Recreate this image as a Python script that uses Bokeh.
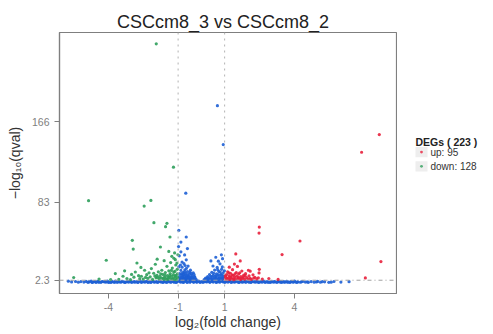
from bokeh.plotting import figure
from bokeh.layouts import row
from bokeh.models import Span, FixedTicker, Range1d, PrintfTickFormatter
from bokeh.core.properties import value
from bokeh.embed import file_html
from bokeh.resources import INLINE

TITLE = "CSCcm8_3  vs  CSCcm8_2"
x_ticks = [-4, -1, 1, 4]
y_ticks = [2.3, 83, 166]
fc_cut = [-1, 1]
q_cut = 2.3
n_up, n_down = 95, 128

# non-significant genes below the q-value cut (x = log2 FC, y = -log10 q)
band_pts = [
    (-5.72, 1.3), (-5.58, 0.5), (-5.41, 1.0), (-5.29, 0.2), (-5.18, 0.9), (-5.05, 0.4), (-4.96, 1.1), (-4.88, 0.1), (-4.81, 0.7), (-4.74, 1.4),
    (-4.67, 0.3), (-4.6, 0.9), (-4.53, 0.0), (-4.46, 1.2), (-4.39, 0.5), (-4.32, 0.1), (-4.25, 1.0), (-4.18, 0.6), (-4.11, 0.2), (-4.04, 1.3),
    (-3.97, 0.4), (-3.9, 0.0), (-3.83, 0.9), (-3.76, 0.3), (-3.69, 1.5), (-3.62, 0.1), (-3.55, 0.7), (-3.48, 0.2), (-3.41, 1.1), (-3.34, 0.5),
    (-3.27, 0.0), (-3.2, 0.9), (-3.13, 0.3), (-3.06, 1.4), (-2.99, 0.1), (-2.92, 0.6), (-2.85, 0.2), (-2.78, 1.0), (-2.71, 0.4), (-2.64, 1.6),
    (-2.57, 0.1), (-2.5, 0.8), (-2.43, 0.3), (-2.36, 1.2), (-2.29, 0.0), (-2.22, 0.7), (-2.15, 0.4), (-2.08, 1.5), (-2.01, 0.2), (-1.94, 0.9),
    (-1.87, 0.1), (-1.8, 1.3), (-1.73, 0.5), (-1.66, 0.0), (-1.59, 1.0), (-1.52, 0.3), (-1.45, 1.7), (-1.38, 0.6), (-1.31, 0.1), (-1.24, 1.2),
    (-1.17, 0.4), (-1.1, 0.0), (-1.03, 0.9), (-0.96, 1.8), (-0.89, 0.2), (-0.82, 1.1), (-0.75, 0.5), (-0.68, 1.9), (-0.61, 0.0), (-0.54, 1.3),
    (-0.47, 0.6), (-0.4, 1.7), (-0.33, 0.1), (-0.26, 1.0), (-0.19, 0.3), (-0.12, 1.4), (-0.05, 0.0), (0.02, 0.8), (0.09, 0.2), (0.16, 1.1),
    (0.23, 0.5), (0.3, 1.6), (0.37, 0.1), (0.44, 1.2), (0.51, 0.4), (0.58, 1.9), (0.65, 0.0), (0.72, 1.0), (0.79, 0.3), (0.86, 1.7),
    (0.93, 0.6), (1.0, 0.1), (1.07, 1.3), (1.14, 0.4), (1.21, 1.8), (1.28, 0.0), (1.35, 0.9), (1.42, 0.2), (1.49, 1.5), (1.56, 0.5),
    (1.63, 0.0), (1.7, 1.1), (1.77, 0.3), (1.84, 0.8), (1.91, 0.1), (1.98, 1.4), (2.05, 0.4), (2.12, 0.0), (2.19, 1.0), (2.26, 0.6),
    (2.33, 0.2), (2.4, 1.2), (2.47, 0.0), (2.54, 0.7), (2.61, 0.3), (2.68, 1.3), (2.75, 0.1), (2.82, 0.8), (2.89, 0.4), (2.96, 0.0),
    (3.03, 1.0), (3.1, 0.3), (3.17, 0.6), (3.24, 0.1), (3.31, 1.2), (3.38, 0.4), (3.45, 0.0), (3.52, 0.8), (3.59, 0.2), (3.66, 1.1),
    (3.73, 0.5), (3.8, 0.0), (3.87, 0.9), (3.94, 0.3), (4.01, 1.3), (4.08, 0.1), (4.15, 0.6), (4.25, 0.2), (4.36, 1.0), (4.47, 0.4),
    (4.6, 0.1), (4.72, 0.9), (4.85, 0.3), (5.0, 1.1), (5.12, 0.2), (5.3, 0.6), (5.48, 0.1), (5.7, 1.0), (6.0, 0.4), (6.35, 0.8),
    (-4.84, 0.5), (-4.7, 0.0), (-4.56, 1.0), (-4.42, 0.3), (-4.28, 0.7), (-4.14, 1.1), (-4.0, 0.1), (-3.86, 0.6), (-3.72, 0.2), (-3.58, 1.0),
    (-3.44, 0.6), (-3.3, 0.2), (-3.16, 1.1), (-3.02, 0.5), (-2.88, 0.9), (-2.74, 0.0), (-2.6, 0.5), (-2.46, 1.0), (-2.32, 0.6), (-2.18, 0.1),
    (-2.04, 0.6), (-1.9, 0.3), (-1.76, 0.8), (-1.62, 0.5), (-1.48, 0.1), (-1.34, 1.0), (-1.2, 0.7), (-1.06, 0.4), (-0.92, 1.0), (-0.78, 0.0),
    (-0.64, 0.8), (-0.5, 0.2), (-0.36, 0.9), (-0.22, 0.6), (-0.08, 0.8), (0.06, 0.4), (0.2, 0.9), (0.34, 0.6), (0.48, 1.0), (0.62, 0.5),
    (0.76, 0.8), (0.9, 1.2), (1.04, 0.5), (1.18, 0.9), (1.32, 0.6), (1.46, 0.8), (1.6, 0.4), (1.74, 0.6), (1.88, 1.0), (2.02, 0.7),
    (2.16, 0.5), (2.3, 0.9), (2.44, 0.4), (2.58, 1.0), (2.72, 0.5), (2.86, 0.2), (3.0, 0.6), (3.14, 1.0), (3.28, 0.5), (3.42, 0.8),
    (3.56, 0.5), (3.7, 0.2), (3.84, 0.6), (3.98, 0.7), (4.12, 0.3), (4.3, 0.6), (4.55, 0.5), (4.95, 0.5), (5.2, 0.8), (5.58, 0.3),
]

# non-significant fold change (|log2 FC| < 1) above the q-value cut
ns_pts = [
    (-0.98, 3.5), (-0.95, 6.0), (-0.93, 9.2), (-0.9, 4.1), (-0.88, 12.5), (-0.86, 7.3), (-0.85, 3.0), (-0.83, 15.8), (-0.81, 5.2), (-0.8, 10.1),
    (-0.78, 3.8), (-0.77, 8.4), (-0.75, 19.5), (-0.74, 6.1), (-0.72, 4.0), (-0.71, 13.0), (-0.69, 2.9), (-0.68, 9.6), (-0.66, 5.5), (-0.65, 23.4),
    (-0.63, 7.2), (-0.62, 3.4), (-0.6, 11.2), (-0.58, 4.6), (-0.57, 16.9), (-0.55, 6.5), (-0.53, 3.1), (-0.51, 8.8), (-0.49, 4.3), (-0.47, 12.7),
    (-0.45, 5.9), (-0.43, 3.6), (-0.41, 7.5), (-0.38, 4.8), (-0.35, 10.0), (-0.33, 3.2), (-0.3, 6.3), (-0.27, 4.0), (-0.22, 3.0), (-0.95, 27.5),
    (-0.88, 31.6), (-0.72, 28.4), (-0.6, 35.0), (-0.83, 21.0), (-0.97, 16.0), (-0.65, 46.9), (-0.97, 53.8), (-0.67, 92.2), (-0.88, 41.7), (-0.98, 37.0),
    (-0.92, 2.8), (-0.87, 5.0), (-0.84, 8.9), (-0.79, 6.8), (-0.76, 2.6), (-0.73, 11.0), (-0.7, 7.9), (-0.67, 3.9), (-0.64, 14.6), (-0.61, 5.0),
    (-0.59, 8.0), (-0.56, 2.7), (-0.52, 5.4), (-0.5, 10.6), (-0.46, 3.0), (-0.44, 9.3), (-0.4, 5.6), (-0.36, 2.8), (-0.32, 8.4), (-0.28, 5.2),
    (-0.9, 18.0), (-0.7, 17.5),
    (0.12, 3.0), (0.18, 4.5), (0.22, 3.4), (0.27, 6.0), (0.31, 3.8), (0.35, 8.2), (0.38, 4.9), (0.42, 3.2), (0.45, 10.5), (0.48, 5.7),
    (0.51, 7.4), (0.54, 3.6), (0.57, 12.8), (0.6, 6.3), (0.62, 4.2), (0.65, 9.0), (0.68, 15.5), (0.7, 5.1), (0.73, 3.3), (0.75, 11.4),
    (0.78, 7.0), (0.8, 19.2), (0.82, 4.4), (0.85, 8.6), (0.87, 13.6), (0.89, 5.8), (0.91, 24.5), (0.93, 3.9), (0.95, 10.2), (0.97, 6.7),
    (0.5, 17.0), (0.73, 22.0), (0.86, 28.5), (0.62, 26.0), (0.41, 22.2), (0.69, 182.5), (0.94, 142.3),
    (0.15, 2.7), (0.25, 4.8), (0.33, 2.9), (0.4, 6.6), (0.47, 3.5), (0.53, 9.4), (0.58, 4.5), (0.64, 6.9), (0.67, 2.8), (0.72, 8.0),
    (0.77, 4.6), (0.81, 10.8), (0.84, 3.1), (0.88, 7.6), (0.9, 16.0), (0.96, 4.3), (0.99, 12.0), (0.7, 13.2),
]

# up-regulated DEGs
up_pts = [
    (1.02, 3.2), (1.05, 5.5), (1.08, 8.1), (1.1, 3.9), (1.13, 11.0), (1.16, 4.6), (1.19, 6.9), (1.22, 3.1), (1.25, 9.5), (1.28, 5.2),
    (1.31, 3.6), (1.34, 13.2), (1.37, 7.4), (1.4, 4.1), (1.43, 5.9), (1.46, 3.3), (1.5, 10.3), (1.53, 6.4), (1.56, 3.8), (1.6, 8.6),
    (1.63, 4.7), (1.67, 3.0), (1.7, 6.1), (1.74, 11.8), (1.78, 4.3), (1.82, 7.5), (1.86, 3.4), (1.9, 9.1), (1.95, 5.0), (2.0, 3.7),
    (2.05, 6.8), (2.1, 4.2), (2.15, 3.2), (2.22, 7.9), (2.3, 5.3), (2.38, 3.6), (2.45, 4.8), (1.2, 15.8), (1.55, 16.5), (2.02, 12.6),
    (2.48, 9.8), (1.48, 29.4), (1.67, 22.2), (2.49, 13.6), (2.49, 57.2), (2.48, 51.0), (3.47, 28.8), (4.24, 42.8), (7.72, 21.6), (7.05, 4.7),
    (7.65, 152.6), (6.89, 134.4), (2.62, 3.5), (2.9, 4.0), (3.3, 3.1), (1.42, 19.0), (2.1, 11.6),
    (1.03, 6.9), (1.11, 2.8), (1.18, 9.8), (1.24, 5.9), (1.32, 7.8), (1.38, 2.9), (1.45, 8.8), (1.58, 5.1), (1.65, 9.9), (1.72, 3.6),
    (1.8, 5.6), (1.88, 7.0), (2.08, 3.0), (2.25, 4.4),
]

# down-regulated DEGs
down_pts = [
    (-5.49, 5.1), (-4.85, 84.4), (-4.09, 22.9), (-3.7, 9.2), (-3.37, 6.4), (-3.55, 3.2), (-3.2, 4.0), (-3.05, 3.0), (-2.97, 43.5), (-2.93, 34.5),
    (-2.77, 20.1), (-2.84, 10.8), (-2.58, 6.4), (-2.44, 12.6), (-2.5, 3.5), (-2.35, 8.0), (-2.3, 4.2), (-2.2, 5.8), (-2.15, 14.3), (-2.1, 3.1),
    (-2.05, 9.5), (-1.98, 18.8), (-1.95, 4.8), (-1.91, 7.4), (-1.85, 11.0), (-1.82, 3.6), (-1.78, 6.2), (-1.76, 36.6), (-1.72, 4.4), (-1.7, 12.6),
    (-1.66, 8.3), (-1.62, 3.2), (-1.58, 5.6), (-1.55, 10.2), (-1.52, 4.0), (-1.48, 16.7), (-1.46, 7.0), (-1.43, 3.4), (-1.4, 12.0), (-1.37, 5.2),
    (-1.34, 9.2), (-1.32, 20.5), (-1.3, 3.8), (-1.28, 6.6), (-1.25, 14.8), (-1.22, 4.5), (-1.2, 8.0), (-1.18, 25.0), (-1.16, 3.1), (-1.14, 11.4),
    (-1.12, 5.9), (-1.1, 18.0), (-1.08, 7.7), (-1.06, 3.5), (-1.04, 13.6), (-1.02, 4.9), (-1.01, 28.6), (-1.15, 30.5), (-1.27, 27.0),
    (-1.35, 46.9), (-1.54, 57.6), (-1.48, 61.0), (-2.04, 61.7), (-2.46, 78.8), (-2.17, 84.7), (-1.2, 119.0), (-1.94, 246.3),
    (-2.65, 3.9), (-2.9, 5.5), (-3.9, 3.0), (-4.4, 3.5), (-1.9, 24.0), (-1.6, 22.5), (-2.6, 15.5),
    (-1.03, 8.8), (-1.07, 2.9), (-1.13, 6.5), (-1.19, 10.8), (-1.24, 3.3), (-1.29, 12.4), (-1.36, 7.3), (-1.42, 4.9), (-1.5, 3.0), (-1.57, 7.6),
    (-1.64, 4.6), (-1.75, 9.0), (-1.88, 5.3), (-2.0, 6.7), (-2.25, 9.9), (-2.4, 5.2), (-2.7, 7.0), (-3.0, 8.3), (-3.3, 12.0), (-1.05, 20.0),
    (-1.12, 23.5), (-1.4, 32.0),
]

BLUE = "#1d5fd5"
GREEN = "#2e9f5b"
RED = "#e8203c"
AXIS_GREY = "#7f7f7f"
FONT = "Liberation Sans"


def xs(pts):
    return [p[0] for p in pts]


def ys(pts):
    return [p[1] for p in pts]


p = figure(width=397, height=334, output_backend="svg", toolbar_location=None,
           x_range=Range1d(-6.1, 8.39), y_range=Range1d(-11.4, 258),
           min_border_left=59, min_border_right=1, min_border_top=32, min_border_bottom=41,
           title=TITLE)

p.title.align = "center"
p.title.text_font = FONT
p.title.text_font_size = "18px"
p.title.text_font_style = "normal"
p.title.text_color = "#222222"
p.title.standoff = 2

p.grid.visible = False
p.outline_line_color = AXIS_GREY
p.outline_line_width = 1.2
p.background_fill_color = "white"
p.border_fill_color = "white"

for ax in (p.xaxis[0], p.yaxis[0]):
    ax.axis_line_color = AXIS_GREY
    ax.axis_line_width = 1.2
    ax.major_tick_line_color = AXIS_GREY
    ax.major_tick_out = 5
    ax.major_tick_in = 0
    ax.minor_tick_line_color = None
    ax.major_label_text_font = FONT
    ax.major_label_text_font_size = "10.5px"
    ax.major_label_text_color = "#808080"
    ax.axis_label_text_font = FONT
    ax.axis_label_text_font_size = "14px"
    ax.axis_label_text_font_style = "normal"
    ax.axis_label_text_color = "#333333"
    ax.formatter = PrintfTickFormatter(format="%g")

p.xaxis.major_label_standoff = 4
p.xaxis.axis_label_standoff = 0
p.yaxis.major_label_standoff = 5
p.yaxis.axis_label_standoff = 6

p.xaxis.ticker = FixedTicker(ticks=x_ticks)
p.yaxis.ticker = FixedTicker(ticks=y_ticks)
p.xaxis.axis_label = "log\u2082(fold change)"
p.yaxis.axis_label = "\u2212log\u2081\u2080(qval)"

for loc in fc_cut:
    p.add_layout(Span(location=loc, dimension="height", line_color="#b3b3b3",
                      line_dash="2 4", line_width=1))
p.add_layout(Span(location=q_cut, dimension="width", line_color="#a0a0a0",
                  line_dash="4 3 1 3", line_width=1))

p.scatter(xs(band_pts), ys(band_pts), size=3.2, color=BLUE, line_color=None, alpha=0.9)
p.scatter(xs(ns_pts), ys(ns_pts), size=3.2, color=BLUE, line_color=None, alpha=0.9)
p.scatter(xs(down_pts), ys(down_pts), size=3.2, color=GREEN, line_color=None, alpha=0.9)
p.scatter(xs(up_pts), ys(up_pts), size=3.2, color=RED, line_color=None, alpha=0.9)

# ---- legend panel (separate small figure, pixel coordinates, y downward) ----
lg = figure(width=96, height=334, output_backend="svg", toolbar_location=None,
            x_range=Range1d(0, 96), y_range=Range1d(334, 0),
            min_border=0, x_axis_location=None, y_axis_location=None)
lg.grid.visible = False
lg.outline_line_color = None
lg.background_fill_color = "white"
lg.border_fill_color = "white"

key_labels = [f"up: {n_up}", f"down: {n_down}"]
key_colors = [RED, GREEN]
key_y = [153.0, 171.3]

lg.text(x=[18], y=[140], text=[f"DEGs ( {n_up + n_down} )"], text_font=value(FONT),
        text_font_size="10.5px", text_font_style="bold", text_color="#222222",
        text_baseline="middle", text_align="left")
lg.rect(x=[24] * len(key_y), y=key_y, width=12, height=13,
        fill_color="#eeeeee", line_color=None)
lg.scatter(x=[24] * len(key_y), y=key_y, size=2.8, color=key_colors,
           line_color=None, alpha=0.8)
lg.text(x=[33] * len(key_y), y=key_y, text=key_labels, text_font=value(FONT),
        text_font_size="10px", text_color="#333333",
        text_baseline="middle", text_align="left")

layout = row(p, lg)
open("out.html", "w").write(file_html(layout, INLINE))
